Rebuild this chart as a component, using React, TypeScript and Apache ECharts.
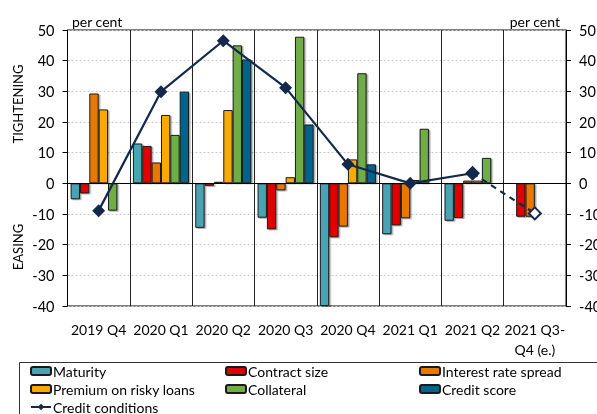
import React, { useEffect, useRef } from "react";
import * as echarts from "echarts";

const categories = ["2019 Q4", "2020 Q1", "2020 Q2", "2020 Q3", "2020 Q4", "2021 Q1", "2021 Q2", "2021 Q3-\nQ4 (e.)"];
const maturity = [-5.2, 13.0, -14.5, -11.2, -40, -16.6, -12.2, null];
const contractSize = [-3.3, 12.2, -0.8, -15.0, -17.6, -13.7, -11.3, -10.9];
const interestRateSpread = [29.3, 6.8, 0.5, -2.3, -14.1, -11.4, 0.9, -10.9];
const premiumRiskyLoans = [24.1, 22.3, 23.9, 2.0, 7.8, 1.1, 0.9, null];
const collateral = [-8.9, 15.8, 45.0, 47.8, 35.9, 17.8, 8.3, null];
const creditScore = [null, 29.9, 40.4, 19.2, 6.2, null, null, null];
const creditConditions = [-8.9, 29.9, 46.5, 31.2, 6.2, 0, 3.3, -9.8];
const yTicks = { min: -40, max: 50, interval: 10 };

const FONT = "Lato";

export default function App() {
  const ref = useRef<HTMLDivElement>(null);
  useEffect(() => {
    const chart = echarts.init(ref.current!, null, { renderer: "svg" });
    const n = categories.length;
    const solidLine = creditConditions.map((v, i) => (i < n - 1 ? v : null));
    const dashedLine = creditConditions.map((v, i) => (i >= n - 2 ? v : null));

    const barSeries = (name: string, data: (number | null)[], color: string) => ({
      type: "bar",
      name,
      data,
      barGap: "0%",
      barCategoryGap: "10%",
      itemStyle: {
        color,
        borderColor: "#1a1a1a",
        borderWidth: 1,
        shadowColor: "rgba(0,0,0,0.35)",
        shadowOffsetX: 1.5,
        shadowOffsetY: 1,
        shadowBlur: 0,
      },
      emphasis: { disabled: true },
    });

    const legendBase = {
      orient: "vertical",
      itemWidth: 20,
      itemHeight: 8,
      itemGap: 0,
      padding: 0,
      height: 80,
      textStyle: { fontFamily: FONT, fontSize: 14, color: "#000", lineHeight: 18, padding: [0, 0, 0, -3] },
      selectedMode: false,
    };

    const navy = "#14284B";

    chart.setOption({
      animation: false,
      textStyle: { fontFamily: FONT },
      grid: {
        left: 67.5,
        right: 31,
        top: 30,
        bottom: 108,
        show: true,
        borderColor: "#000",
        borderWidth: 1,
        containLabel: false,
        outerBoundsMode: "none",
      },
      legend: [
        { ...legendBase, left: 30, top: 362, data: ["Maturity", "Premium on risky loans", "Credit conditions"] },
        { ...legendBase, left: 225, top: 362, data: ["Contract size", "Collateral"] },
        { ...legendBase, left: 419, top: 362, data: ["Interest rate spread", "Credit score"] },
      ],
      xAxis: {
        type: "category",
        data: categories,
        boundaryGap: true,
        axisLine: { show: true, lineStyle: { color: "#000" } },
        axisTick: { show: false },
        splitLine: { show: true, lineStyle: { color: "#222", width: 1 } },
        axisLabel: { color: "#000", fontSize: 14, fontFamily: FONT, margin: 13, lineHeight: 20, interval: 0 },
      },
      yAxis: [
        {
          type: "value",
          ...yTicks,
          axisLine: { show: true, lineStyle: { color: "#000" } },
          axisTick: { show: true, inside: false, length: 5, lineStyle: { color: "#000" } },
          splitLine: { show: true, lineStyle: { color: "#c8c8c8", type: [2, 2], width: 1 } },
          axisLabel: { color: "#000", fontSize: 14.5, fontFamily: FONT, margin: 13 },
        },
        {
          type: "value",
          ...yTicks,
          position: "right",
          axisLine: { show: true, lineStyle: { color: "#000" } },
          axisTick: { show: true, inside: false, length: 5, lineStyle: { color: "#000" } },
          splitLine: { show: false },
          axisLabel: { color: "#000", fontSize: 14.5, fontFamily: FONT, margin: 13 },
        },
      ],
      series: [
        {
          ...barSeries("Maturity", maturity, "#4AA3B3"),
          markLine: {
            silent: true,
            symbol: "none",
            label: { show: false },
            lineStyle: { color: "#000", type: "solid", width: 1.2 },
            data: [{ yAxis: 0 }],
          },
        },
        barSeries("Contract size", contractSize, "#E10000"),
        barSeries("Interest rate spread", interestRateSpread, "#E87800"),
        barSeries("Premium on risky loans", premiumRiskyLoans, "#F7AA00"),
        barSeries("Collateral", collateral, "#6FAD47"),
        barSeries("Credit score", creditScore, "#00648C"),
        {
          type: "line",
          name: "Credit conditions",
          data: solidLine,
          symbol: "diamond",
          symbolSize: 13,
          lineStyle: { color: navy, width: 2.2 },
          itemStyle: { color: navy },
          emphasis: { disabled: true },
          z: 5,
        },
        {
          type: "line",
          name: "Credit conditions (e.)",
          data: dashedLine,
          symbol: "diamond",
          symbolSize: 12,
          showSymbol: true,
          lineStyle: { color: navy, width: 2.2, type: [6, 5] },
          itemStyle: { color: "#fff", borderColor: navy, borderWidth: 2 },
          emphasis: { disabled: true },
          z: 4,
        },
      ],
      graphic: [
        { type: "text", x: 72, y: 21, style: { text: "per cent", font: `14px ${FONT}`, fill: "#000", verticalAlign: "middle", align: "left" } },
        { type: "text", x: 560, y: 21, style: { text: "per cent", font: `14px ${FONT}`, fill: "#000", verticalAlign: "middle", align: "right" } },
        { type: "text", x: 18, y: 104, rotation: Math.PI / 2, style: { text: "TIGHTENING", font: `13px ${FONT}`, fill: "#000", verticalAlign: "middle", align: "center" } },
        { type: "text", x: 18, y: 247, rotation: Math.PI / 2, style: { text: "EASING", font: `13px ${FONT}`, fill: "#000", verticalAlign: "middle", align: "center" } },
        { type: "rect", shape: { x: 19.5, y: 362.5, width: 700, height: 120 }, style: { fill: "none", stroke: "#333", lineWidth: 1 }, silent: true },
      ],
    });
    return () => chart.dispose();
  }, []);
  return <div ref={ref} style={{ position: "fixed", left: 0, top: 0, width: 597, height: 414 }} />;
}
